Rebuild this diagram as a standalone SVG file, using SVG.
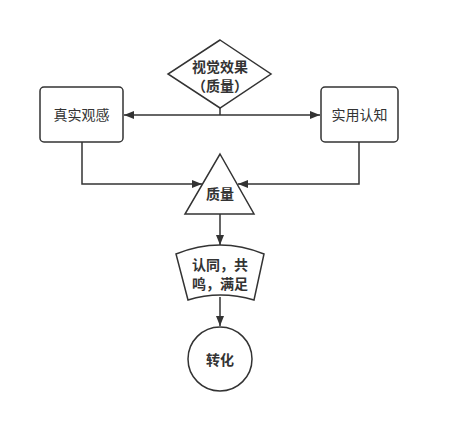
<svg xmlns="http://www.w3.org/2000/svg" width="450" height="440" viewBox="0 0 450 440">
<style>
.s{fill:#fff;stroke:#333;stroke-width:1.5}
.c{fill:none;stroke:#333;stroke-width:1.5}
.t{font-family:"Noto Sans CJK SC","Noto Sans",sans-serif;font-size:14px;fill:#333;text-anchor:middle;dominant-baseline:central}
.b{font-weight:bold}
</style>
<defs>
<marker id="a" viewBox="0 0 10 8" refX="10" refY="4" markerWidth="10" markerHeight="8" markerUnits="userSpaceOnUse" orient="auto">
<path d="M0,0 L10,4 L0,8 Z" fill="#333"/>
</marker>
</defs>
<rect width="450" height="440" fill="#fff"/>
<g id="connectors">
<line class="c" x1="220" y1="108" x2="220" y2="115"/>
<line class="c" x1="220" y1="115" x2="124" y2="115" marker-end="url(#a)"/>
<line class="c" x1="220" y1="115" x2="320" y2="115" marker-end="url(#a)"/>
<polyline class="c" points="82,142 82,184 202,184" marker-end="url(#a)"/>
<polyline class="c" points="359,142 359,184 238,184" marker-end="url(#a)"/>
<line class="c" x1="220" y1="214" x2="220" y2="245" marker-end="url(#a)"/>
<line class="c" x1="220" y1="297" x2="220" y2="326" marker-end="url(#a)"/>
</g>
<g id="n1">
<polygon class="s" points="220,40 271,74 220,108 168,74"/>
<text class="t b" x="220" y="65.5">视觉效果</text>
<text class="t b" x="220" y="85">（质量）</text>
</g>
<g id="n2">
<rect class="s" x="40" y="87" width="83" height="55" rx="4"/>
<text class="t" x="81.5" y="114">真实观感</text>
</g>
<g id="n3">
<rect class="s" x="321" y="87" width="77" height="55" rx="4"/>
<text class="t" x="359.5" y="114">实用认知</text>
</g>
<g id="n4">
<polygon class="s" points="220,154 254,214 185,214"/>
<text class="t b" x="220" y="193">质量</text>
</g>
<g id="n5">
<path class="s" d="M176,254 Q220,236 264,254 L254,300 Q220,290 188,300 Z"/>
<text class="t b" x="220" y="264">认同，共</text>
<text class="t b" x="220" y="283">鸣，满足</text>
</g>
<g id="n6">
<circle class="s" cx="220" cy="359" r="32"/>
<text class="t b" x="220" y="359">转化</text>
</g>
</svg>
